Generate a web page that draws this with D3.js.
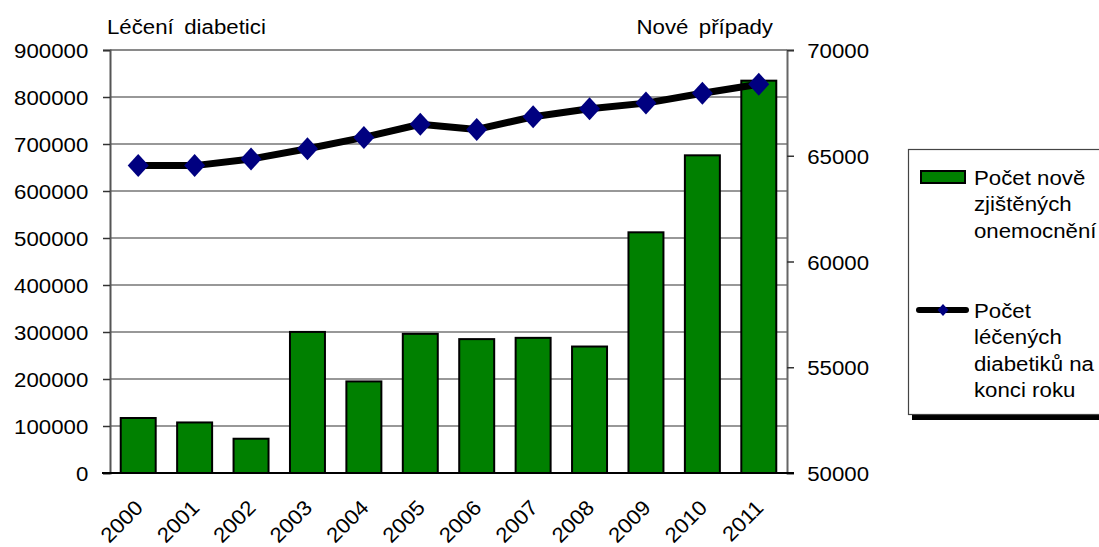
<!DOCTYPE html>
<html>
<head>
<meta charset="utf-8">
<script src="https://cdn.jsdelivr.net/npm/d3@7"></script>
<style>
  html, body { margin: 0; padding: 0; background: #fff; }
  svg { display: block; }
  text { font-family: "Liberation Sans", Arial, sans-serif; fill: #000; }
</style>
</head>
<body>
<svg id="chart" width="1099" height="547"></svg>
<script>
// Roky
const years = ["2000","2001","2002","2003","2004","2005","2006","2007","2008","2009","2010","2011"];
// Počet nově zjištěných onemocnění (pravá osa)
const newCases = [52600, 52390, 51620, 56670, 54330, 56580, 56330, 56390, 55980, 61380, 65020, 68550];
// Počet léčených diabetiků na konci roku (levá osa)
const treated = [654000, 654000, 668000, 690000, 714000, 742000, 731000, 758000, 775000, 787000, 808000, 827000];
// Popisky os
const leftTicks = [0, 100000, 200000, 300000, 400000, 500000, 600000, 700000, 800000, 900000];
const rightTicks = [50000, 55000, 60000, 65000, 70000];
const leftTitle = "Léčení diabetici";
const rightTitle = "Nové případy";
const legendBars = ["Počet nově", "zjištěných", "onemocnění"];
const legendLine = ["Počet", "léčených", "diabetiků na", "konci roku"];

const svg = d3.select("#chart");
const FS = 21, SX = 1.06;
const plot = { left: 110, right: 787, top: 50, bottom: 473 };

const x = d3.scaleBand().domain(years).range([plot.left, plot.right])
  .paddingInner(0.38).paddingOuter(0.19);
const yL = d3.scaleLinear().domain([0, 900000]).range([plot.bottom, plot.top]);
const yR = d3.scaleLinear().domain([50000, 70000]).range([plot.bottom, plot.top]);

// horizontal gridlines
svg.append("g").selectAll("line")
  .data(leftTicks.filter(d => d > 0 && d < 900000))
  .join("line")
  .attr("x1", plot.left).attr("x2", plot.right)
  .attr("y1", d => yL(d)).attr("y2", d => yL(d))
  .attr("stroke", "#333").attr("stroke-width", 1.2);

// plot frame (top edge)
svg.append("line")
  .attr("x1", plot.left).attr("x2", plot.right)
  .attr("y1", yL(900000)).attr("y2", yL(900000))
  .attr("stroke", "#8a8a8a").attr("stroke-width", 2);

// bars: new cases on the right axis
svg.append("g").selectAll("rect")
  .data(years.map((y, i) => ({ y, v: newCases[i] })))
  .join("rect")
  .attr("x", d => x(d.y))
  .attr("width", x.bandwidth())
  .attr("y", d => yR(d.v))
  .attr("height", d => yR(50000) - yR(d.v))
  .attr("fill", "#008000")
  .attr("stroke", "#000").attr("stroke-width", 2);

// left axis
const axL = svg.append("g").attr("transform", `translate(${plot.left},0)`)
  .call(d3.axisLeft(yL).tickValues(leftTicks).tickFormat(d3.format("d")).tickSize(7).tickPadding(0));
axL.select(".domain").attr("stroke", "#555").attr("stroke-width", 2);
axL.selectAll(".tick line").attr("stroke", "#333").attr("stroke-width", 1.5);
axL.selectAll(".tick text")
  .attr("x", -20.5).attr("dy", "0.36em")
  .attr("font-size", FS).attr("font-family", "Liberation Sans, Arial, sans-serif")
  .attr("transform", `scale(${SX},1)`);

// right axis
const axR = svg.append("g").attr("transform", `translate(${plot.right},0)`)
  .call(d3.axisRight(yR).tickValues(rightTicks).tickFormat(d3.format("d")).tickSize(7).tickPadding(0));
axR.select(".domain").attr("stroke", "#666").attr("stroke-width", 2);
axR.selectAll(".tick line").attr("stroke", "#333").attr("stroke-width", 1.5);
axR.selectAll(".tick text")
  .attr("x", 19).attr("dy", "0.36em")
  .attr("font-size", FS).attr("font-family", "Liberation Sans, Arial, sans-serif")
  .attr("transform", `scale(${SX},1)`);

// bottom axis
const axB = svg.append("g").attr("transform", `translate(0,${plot.bottom})`)
  .call(d3.axisBottom(x).tickSize(0));
axB.select(".domain").remove();
svg.append("line")
  .attr("x1", plot.left - 8).attr("x2", plot.right + 7)
  .attr("y1", plot.bottom).attr("y2", plot.bottom)
  .attr("stroke", "#000").attr("stroke-width", 2);
axB.selectAll(".tick text")
  .attr("y", 0).attr("dy", 0)
  .attr("text-anchor", "end")
  .attr("font-size", FS).attr("font-family", "Liberation Sans, Arial, sans-serif")
  .attr("transform", `translate(6,36) rotate(-45) scale(${SX},1)`);

// line: treated diabetics on the left axis
const line = d3.line().x((d, i) => x(years[i]) + x.bandwidth() / 2).y(d => yL(d));
svg.append("path").datum(treated)
  .attr("d", line)
  .attr("fill", "none").attr("stroke", "#000")
  .attr("stroke-width", 7).attr("stroke-linejoin", "round");

const diamond = (w, h) => `M0,${-h}L${w},0L0,${h}L${-w},0Z`;
svg.append("g").selectAll("path")
  .data(treated)
  .join("path")
  .attr("transform", (d, i) => `translate(${x(years[i]) + x.bandwidth() / 2},${yL(d)})`)
  .attr("d", diamond(10.5, 11.5))
  .attr("fill", "#000080");

// axis titles
function stretchedText(g, str, tx, ty, anchor) {
  return g.append("text")
    .attr("transform", `translate(${tx},${ty}) scale(${SX},1)`)
    .attr("text-anchor", anchor)
    .attr("font-size", FS)
    .attr("word-spacing", 4)
    .text(str);
}
stretchedText(svg, leftTitle, 107, 34, "start");
stretchedText(svg, rightTitle, 773, 34, "end");

// legend
const lg = svg.append("g");
lg.append("rect")
  .attr("x", 912).attr("y", 413).attr("width", 200).attr("height", 7)
  .attr("fill", "#000");
lg.append("rect")
  .attr("x", 908.5).attr("y", 149.5).attr("width", 200).attr("height", 265)
  .attr("fill", "#fff").attr("stroke", "#444").attr("stroke-width", 1.2);
lg.append("rect")
  .attr("x", 921).attr("y", 171).attr("width", 44).attr("height", 12)
  .attr("fill", "#008000").attr("stroke", "#000").attr("stroke-width", 2);
legendBars.forEach((t, i) => {
  lg.append("text")
    .attr("transform", `translate(974,${185 + i * 26.3}) scale(${SX},1)`)
    .attr("font-size", FS).text(t);
});
lg.append("line")
  .attr("x1", 919).attr("x2", 966).attr("y1", 310).attr("y2", 310)
  .attr("stroke", "#000").attr("stroke-width", 6).attr("stroke-linecap", "round");
lg.append("path")
  .attr("transform", "translate(943,310)")
  .attr("d", diamond(5.5, 6))
  .attr("fill", "#000080");
legendLine.forEach((t, i) => {
  lg.append("text")
    .attr("transform", `translate(974,${318 + i * 26.3}) scale(${SX},1)`)
    .attr("font-size", FS).text(t);
});
</script>
</body>
</html>
